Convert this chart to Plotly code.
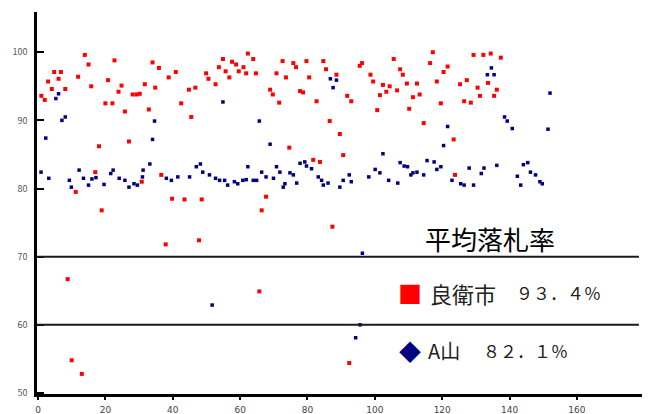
import plotly.graph_objects as go

# ---- data ----
red_x = [13.9, 15.0, 22.7, 4.8, 6.8, 11.9, 6.1, 3.0, 20.8, 4.1, 8.1, 15.8, 24.8, 23.9, 31.7, 1.0, 2.0,
         28.1, 29.3, 20.0, 22.1, 25.8, 27.0, 18.1, 17.0, 11.2, 18.9, 30.8, 34.0, 35.9, 38.8, 40.9, 34.8,
         30.2, 32.9, 44.8, 46.7, 42.5, 45.5, 49.9, 50.6, 52.7, 53.7, 54.9, 55.7, 56.8, 57.6, 58.8, 59.6,
         61.8, 62.3, 36.6, 39.8, 43.5, 48.6, 63.9, 61.0, 64.7, 70.8, 72.6, 73.6, 75.8, 76.6, 79.7, 80.5,
         84.7, 85.5, 88.6, 68.9, 69.7, 71.6, 77.8, 78.7, 82.7, 86.6, 89.6, 91.8, 93.0, 74.6, 90.6, 81.7,
         83.7, 67.7, 66.4, 117.2, 116.4, 105.6, 96.2, 95.5, 107.5, 108.3, 98.7, 99.5, 102.4, 104.4, 109.5,
         112.5, 106.6, 103.4, 101.5, 111.3, 113.3, 118.4, 120.4, 121.6, 119.6, 100.7, 110.2, 114.5, 123.4,
         123.8, 129.3, 132.2, 134.4, 137.4, 127.3, 125.3, 130.5, 133.6, 136.2, 131.2, 135.4, 126.5, 128.5,
         87.4, 37.9, 47.8, 8.8, 65.7, 10.0, 13.0, 92.4]
red_y = [99.6, 98.2, 98.8, 97.1, 97.1, 96.4, 96.1, 95.7, 95.9, 94.6, 94.6, 95.0, 95.1, 94.2, 95.3, 93.6, 93.0,
         93.8, 93.8, 92.5, 92.5, 91.3, 86.9, 86.2, 82.4, 79.5, 76.8, 81.0, 98.5, 97.7, 96.3, 97.1, 94.8,
         93.9, 91.6, 94.5, 94.8, 92.5, 90.5, 96.9, 96.1, 95.3, 97.8, 99.0, 97.2, 96.3, 98.6, 98.2, 97.2,
         96.9, 99.8, 82.0, 78.5, 78.4, 78.4, 99.0, 97.8, 96.9, 96.9, 98.7, 96.3, 98.4, 97.8, 98.7, 96.3,
         98.7, 97.5, 96.7, 94.5, 93.8, 92.6, 94.3, 94.1, 92.8, 89.9, 88.0, 93.6, 92.8, 86.0, 84.9, 84.2,
         83.9, 78.8, 76.8, 100.0, 98.4, 99.0, 98.4, 98.0, 97.5, 96.7, 96.7, 95.7, 95.2, 95.0, 95.4,
         95.4, 94.4, 94.2, 93.7, 93.4, 93.8, 95.7, 97.1, 97.9, 92.5, 91.5, 91.7, 89.6, 87.2,
         82.0, 99.6, 99.6, 99.8, 99.2, 95.9, 95.3, 94.8, 95.5, 94.5, 93.6, 93.6, 92.8, 92.6,
         74.4, 71.8, 72.4, 66.7, 64.9, 54.8, 52.8, 54.4]

blue_x = [6.1, 5.3, 8.1, 7.1, 2.3, 0.9, 3.2, 9.3, 9.9, 12.2, 13.5, 15.0, 16.0, 17.2, 19.6, 22.3, 21.6, 24.1,
          25.8, 27.0, 28.5, 29.5, 31.0, 31.2, 54.9, 34.6, 34.0, 33.2, 38.1, 39.6, 41.5, 45.0, 47.0, 48.2,
          48.9, 50.9, 52.7, 53.9, 55.4, 56.3, 58.3, 59.3, 60.8, 62.3, 86.8, 88.6, 87.6, 65.7, 68.9, 66.4,
          61.8, 63.9, 64.9, 67.7, 69.9, 70.8, 71.8, 74.8, 75.8, 73.3, 72.8, 76.8, 77.8, 79.2, 79.7, 81.2,
          83.2, 84.2, 84.7, 86.1, 89.6, 90.6, 92.4, 93.0, 121.6, 120.4, 102.4, 98.2, 100.1, 101.5, 104.1,
          106.8, 107.5, 108.7, 109.7, 111.3, 112.5, 110.7, 114.5, 115.5, 117.6, 118.4, 119.6, 122.9,
          134.6, 133.4, 135.4, 152.0, 138.5, 139.3, 140.8, 151.4, 128.0, 132.4, 131.6, 136.2, 144.1,
          145.4, 146.2, 147.7, 142.3, 149.0, 149.7, 125.5, 126.5, 129.3, 143.3, 96.3, 51.7, 95.6, 94.3]
blue_y = [93.9, 93.2, 90.5, 90.0, 87.4, 82.4, 81.5, 81.2, 80.2, 82.7, 81.5, 80.5, 81.4, 81.6, 80.6, 82.7, 82.2, 81.5,
          81.2, 80.2, 80.7, 80.5, 81.7, 82.7, 92.7, 89.9, 87.2, 83.6, 81.5, 81.2, 81.7, 81.7, 83.2, 83.6,
          82.4, 82.0, 81.5, 81.2, 81.2, 80.5, 81.0, 80.7, 81.2, 83.2, 96.1, 95.9, 94.8, 89.9, 86.5, 82.4,
          81.3, 81.2, 81.2, 81.7, 81.5, 83.2, 82.4, 82.3, 82.0, 80.7, 80.2, 80.8, 83.7, 83.9, 83.3, 82.9,
          81.7, 81.2, 80.5, 80.8, 80.2, 81.2, 82.0, 81.0, 89.1, 86.3, 85.1, 81.7, 82.8, 82.3, 81.2,
          80.8, 83.8, 83.3, 83.2, 82.3, 82.4, 82.0, 82.0, 84.1, 83.9, 82.8, 83.2, 81.2,
          97.7, 96.7, 96.7, 94.0, 90.5, 89.9, 88.8, 88.7, 83.0, 83.0, 82.2, 83.4, 83.5,
          83.8, 82.4, 82.0, 81.8, 81.0, 80.7, 80.7, 80.5, 80.5, 80.5, 70.5, 62.9, 60.0, 58.1]

y_ticks = [50, 60, 70, 80, 90, 100]
x_ticks = [0, 20, 40, 60, 80, 100, 120, 140, 160, 180]

legend_title = "平均落札率"
series_names = ["良衛市", "A山"]
series_avgs = ["９３．４％", "８２．１％"]

RED = "#FF0000"
NAVY = "#000080"
FONT = "Noto Sans CJK JP"

fig = go.Figure()
fig.add_trace(go.Scatter(x=red_x, y=red_y, mode="markers", name=series_names[0],
                         marker=dict(symbol="square", size=4, color=RED)))
fig.add_trace(go.Scatter(x=blue_x, y=blue_y, mode="markers", name=series_names[1],
                         marker=dict(symbol="square", size=3.5, color=NAVY)))

# legend table lines
for yv in (70, 60):
    fig.add_shape(type="line", xref="paper", yref="y", x0=0, x1=0.99, y0=yv, y1=yv,
                  line=dict(color="#1a1a1a", width=2))

ann = []
ann.append(dict(text=legend_title, xref="paper", yref="y", x=0.745, y=72.6, showarrow=False,
                font=dict(family=FONT, size=26, color="#000"), xanchor="center", yanchor="middle"))
# row 1
ann.append(dict(text="■", xref="paper", yref="y", x=0.613, y=64.7, showarrow=False,
                font=dict(family=FONT, size=24, color=RED), xanchor="center", yanchor="middle"))
ann.append(dict(text=series_names[0], xref="paper", yref="y", x=0.643, y=64.7, showarrow=False,
                font=dict(family=FONT, size=22, color="#222"), xanchor="left", yanchor="middle"))
ann.append(dict(text=series_avgs[0], xref="paper", yref="y", x=0.785, y=64.7, showarrow=False,
                font=dict(family=FONT, size=17, color="#222"), xanchor="left", yanchor="middle"))
# row 2
ann.append(dict(text="◆", xref="paper", yref="y", x=0.613, y=56.3, showarrow=False,
                font=dict(family=FONT, size=22, color=NAVY), xanchor="center", yanchor="middle"))
ann.append(dict(text=series_names[1], xref="paper", yref="y", x=0.640, y=56.3, showarrow=False,
                font=dict(family=FONT, size=20, color="#222"), xanchor="left", yanchor="middle"))
ann.append(dict(text=series_avgs[1], xref="paper", yref="y", x=0.730, y=56.3, showarrow=False,
                font=dict(family=FONT, size=17, color="#222"), xanchor="left", yanchor="middle"))

# the page has an 8px body margin, so the figure is 8px smaller and its margins 8px tighter
fig.update_layout(
    width=642, height=406,
    margin=dict(l=29, r=5, t=4, b=20, autoexpand=False),
    paper_bgcolor="white", plot_bgcolor="white",
    showlegend=False,
    annotations=ann,
    font=dict(family=FONT),
    xaxis=dict(range=[-0.3, 180.2], tickvals=x_ticks, showgrid=False, zeroline=False,
               showline=True, linecolor="#000", linewidth=2.5, automargin=False,
               ticks="outside", ticklen=3, tickwidth=2, tickcolor="#000",
               tickfont=dict(family="DejaVu Sans", size=9, color="#444"), ticklabelstandoff=2),
    yaxis=dict(range=[49.85, 105.9], tickvals=y_ticks, showgrid=False, zeroline=False,
               showline=True, linecolor="#000", linewidth=2.5, automargin=False,
               ticks="inside", ticklen=7, tickwidth=2, tickcolor="#000",
               tickfont=dict(size=9, color="#555"), ticklabelstandoff=5),
)

fig.write_html("out.html")
